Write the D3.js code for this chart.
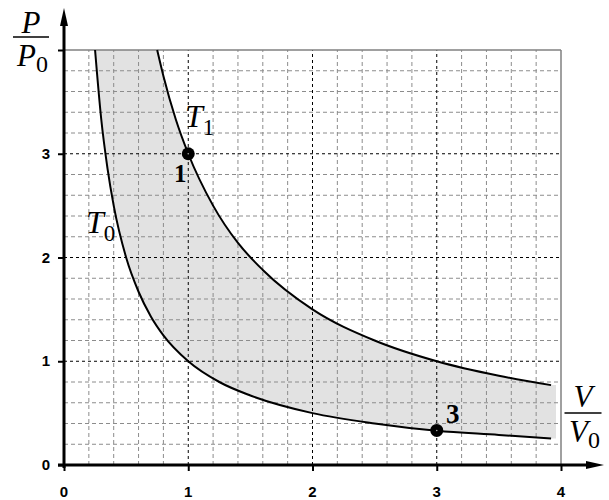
<!DOCTYPE html>
<html><head><meta charset="utf-8">
<script src="https://cdn.jsdelivr.net/npm/d3@7/dist/d3.min.js"></script>
<style>body{margin:0;background:#fff}svg{display:block}
.tl{font-family:Arial,'Liberation Sans',sans-serif;font-weight:700;font-size:15px;fill:#000}</style>
</head><body>
<script>
// Data
const xTicks = [0, 1, 2, 3, 4];
const yTicks = [0, 1, 2, 3];
const minorX = [0.2,0.4,0.6,0.8,1.2,1.4,1.6,1.8,2.2,2.4,2.6,2.8,3.2,3.4,3.6,3.8];
const minorY = [0.2,0.4,0.6,0.8,1.2,1.4,1.6,1.8,2.2,2.4,2.6,2.8,3.2,3.4,3.6,3.8];
const majorX = [1, 2, 3];
const majorY = [1, 2, 3];
// Isotherm T0
const t0V = [0.25, 0.3, 0.35, 0.4, 0.5, 0.6, 0.7, 0.8, 1.0, 1.25, 1.5, 2.0, 2.5, 3.0, 3.5, 3.92];
const t0P = [4.0, 3.33, 2.86, 2.5, 2.0, 1.67, 1.43, 1.25, 1.0, 0.8, 0.67, 0.5, 0.4, 0.33, 0.29, 0.255];
// Isotherm T1
const t1V = [0.75, 0.8, 0.9, 1.0, 1.2, 1.4, 1.6, 2.0, 2.5, 3.0, 3.5, 3.92];
const t1P = [4.0, 3.75, 3.33, 3.0, 2.5, 2.14, 1.88, 1.5, 1.2, 1.0, 0.86, 0.77];
const fillEndV = 3.96;
// States
const stateV = [1, 3];
const stateP = [3, 0.333];
const stateLbl = ["1", "3"];

const W = 609, H = 500;
const svg = d3.select("body").append("svg").attr("width", W).attr("height", H);
const x = d3.scaleLinear().domain([0, 4]).range([64, 561]);
const y = d3.scaleLinear().domain([0, 4]).range([465, 50]);

const t0 = t0V.map((v, i) => [v, t0P[i]]);
const t1 = t1V.map((v, i) => [v, t1P[i]]);

// shaded region
const line = d3.line().x(d => x(d[0])).y(d => y(d[1])).curve(d3.curveMonotoneX);
const topPath = line(t0);
const botPath = line(t1.slice().reverse());
svg.append("path")
  .attr("d", topPath + `L${x(fillEndV)},${y(t0P[t0P.length-1])}L${x(fillEndV)},${y(t1P[t1P.length-1])}L` + botPath.slice(1) + "Z")
  .attr("fill", "#e2e2e2");

// minor grid
const g = svg.append("g");
minorX.forEach(v => g.append("line").attr("x1", x(v)).attr("x2", x(v)).attr("y1", y(0)).attr("y2", y(4))
  .attr("stroke", "#8c8c8c").attr("stroke-dasharray", "4,3").attr("stroke-width", 1));
minorY.forEach(v => g.append("line").attr("x1", x(0)).attr("x2", x(4)).attr("y1", y(v)).attr("y2", y(v))
  .attr("stroke", "#8c8c8c").attr("stroke-dasharray", "4,3").attr("stroke-width", 1));
// major grid
majorX.forEach(v => g.append("line").attr("x1", x(v)).attr("x2", x(v)).attr("y1", y(0)).attr("y2", y(4))
  .attr("stroke", "#000").attr("stroke-dasharray", "3,3").attr("stroke-width", 1));
majorY.forEach(v => g.append("line").attr("x1", x(0)).attr("x2", x(4)).attr("y1", y(v)).attr("y2", y(v))
  .attr("stroke", "#000").attr("stroke-dasharray", "3,3").attr("stroke-width", 1));
// border top/right
g.append("line").attr("x1", x(0)).attr("x2", x(4)).attr("y1", y(4)).attr("y2", y(4)).attr("stroke", "#808080").attr("stroke-width", 1.5);
g.append("line").attr("x1", x(4)).attr("x2", x(4)).attr("y1", y(0)).attr("y2", y(4)).attr("stroke", "#808080").attr("stroke-width", 1.5);

// curves
[t0, t1].forEach(c => svg.append("path").attr("d", line(c)).attr("fill", "none")
  .attr("stroke", "#000").attr("stroke-width", 2));

// axes (ticks via d3 axis, labels drawn from the scales)
const xAxis = d3.axisBottom(x).tickValues(xTicks).tickSize(6).tickFormat("");
const yAxis = d3.axisLeft(y).tickValues(yTicks.concat([4])).tickSize(6).tickFormat("");
const gx = svg.append("g").attr("transform", `translate(0,${y(0)})`).call(xAxis);
const gy = svg.append("g").attr("transform", `translate(${x(0)},0)`).call(yAxis);
[gx, gy].forEach(a => {
  a.select(".domain").remove();
  a.selectAll(".tick line").attr("stroke", "#000").attr("stroke-width", 2);
});
svg.selectAll("text.xl").data(xTicks).join("text").attr("class", "tl")
  .attr("x", d => x(d)).attr("y", 497).attr("text-anchor", "middle").text(d => d3.format("d")(d));
svg.selectAll("text.yl").data(yTicks).join("text").attr("class", "tl")
  .attr("x", 50).attr("y", d => y(d) + 5).attr("text-anchor", "end").text(d => d3.format("d")(d));

// axis lines with arrows
svg.append("line").attr("x1", x(0) - 6).attr("x2", 592).attr("y1", y(0)).attr("y2", y(0))
  .attr("stroke", "#000").attr("stroke-width", 3);
svg.append("path").attr("d", `M${604},${y(0)} L${586},${y(0)-4} L${586},${y(0)+4} Z`).attr("fill", "#000");
svg.append("line").attr("x1", x(0)).attr("x2", x(0)).attr("y1", y(0) + 3).attr("y2", 22)
  .attr("stroke", "#000").attr("stroke-width", 3);
svg.append("path").attr("d", `M${x(0)},${8} L${x(0)-4},${26} L${x(0)+4},${26} Z`).attr("fill", "#000");

// state points
stateV.forEach((v, i) => {
  svg.append("circle").attr("cx", x(v)).attr("cy", y(stateP[i])).attr("r", 6.5)
    .style("fill", "#000").style("stroke", "none");
  svg.append("circle").attr("cx", x(v)).attr("cy", y(stateP[i])).attr("r", 0.8)
    .style("fill", "#aaa").style("stroke", "none");
});
const serif = "'Liberation Serif', 'Times New Roman', serif";
svg.append("text").attr("x", 174).attr("y", 182).text(stateLbl[0])
  .style("font-family", serif).attr("font-weight", "bold").attr("font-size", 25);
svg.append("text").attr("x", 446).attr("y", 423).text(stateLbl[1])
  .style("font-family", serif).attr("font-weight", "bold").attr("font-size", 27);

// isotherm labels
function tLabel(px, py, sub) {
  const t = svg.append("text").attr("x", px).attr("y", py).style("font-family", serif).attr("font-size", 32);
  t.append("tspan").attr("font-style", "italic").text("T");
  t.append("tspan").attr("font-size", 23).attr("dx", 0).attr("dy", 8).text(sub);
}
tLabel(86, 233, "0");
tLabel(185, 127, "1");

// axis titles (fractions)
function frac(cx, topBase, lineY, botBase, letter, w) {
  svg.append("text").attr("x", cx).attr("y", topBase).attr("text-anchor", "middle")
    .style("font-family", serif).attr("font-style", "italic").attr("font-size", 31).text(letter);
  svg.append("line").attr("x1", cx - w / 2).attr("x2", cx + w / 2).attr("y1", lineY).attr("y2", lineY)
    .attr("stroke", "#000").attr("stroke-width", 1.5);
  const t = svg.append("text").attr("x", cx - 14).attr("y", botBase).style("font-family", serif).attr("font-size", 31);
  t.append("tspan").attr("font-style", "italic").text(letter);
  t.append("tspan").attr("font-size", 24).attr("dx", 0).attr("dy", 6).text("0");
}
frac(31, 33, 37, 66, "P", 36);
frac(583, 407, 413, 442, "V", 37);
</script>
</body></html>
